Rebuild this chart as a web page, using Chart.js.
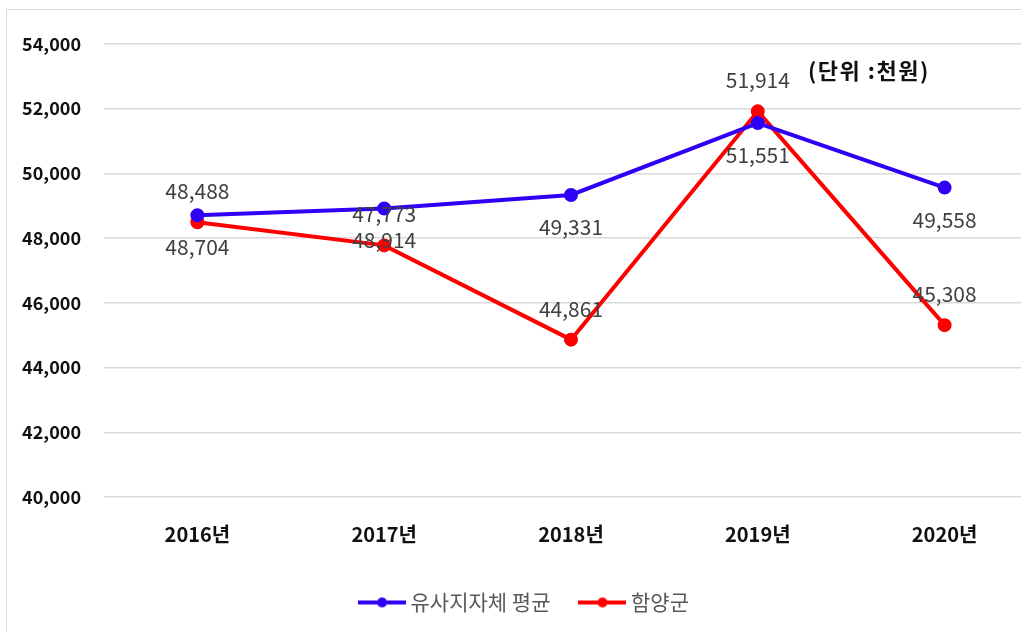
<!DOCTYPE html>
<html>
<head>
<meta charset="utf-8">
<script src="https://cdn.jsdelivr.net/npm/chart.js@4.4.1/dist/chart.umd.min.js"></script>
<style>
  html, body { margin: 0; padding: 0; background: #fff; overflow: hidden; }
  #frame {
    position: absolute; left: 6px; top: 9px; width: 1060px; height: 630px;
    border-left: 1px solid #d9d9d9; border-top: 1px solid #d9d9d9;
  }
  #wrap { position: absolute; left: 0; top: 0; width: 1040px; height: 622px; }
  #unit {
    position: absolute; left: 808px; top: 53px; line-height: 1;
    font: bold 22px "Noto Sans CJK KR", "Noto Sans", sans-serif; color: #111;
    letter-spacing: 1.5px;
  }
</style>
</head>
<body>
<div id="frame">
  <div id="wrap"><canvas id="lineChart"></canvas></div>
</div>
<div id="unit">(단위 :천원)</div>
<script>
// categories and values (천원)
const years = ['2016년', '2017년', '2018년', '2019년', '2020년'];
const avgValues = [48704, 48914, 49331, 51551, 49558];      // 유사지자체 평균
const hamyangValues = [48488, 47773, 44861, 51914, 45308];  // 함양군
const yTicks = [40000, 42000, 44000, 46000, 48000, 50000, 52000, 54000];

const BLUE = '#2f00f5';
const RED = '#ff0000';
const FONT = '"Noto Sans CJK KR", "Noto Sans", sans-serif';

// legend icon: short line with a dot in the middle
function legendIcon(color) {
  const c = document.createElement('canvas');
  c.width = 48; c.height = 12;
  const g = c.getContext('2d');
  g.strokeStyle = color; g.lineWidth = 4;
  g.beginPath(); g.moveTo(0, 6); g.lineTo(48, 6); g.stroke();
  g.fillStyle = color;
  g.beginPath(); g.arc(24, 6, 5, 0, Math.PI * 2); g.fill();
  return c;
}

// value labels: blue under the point, red above it
const valueLabels = {
  id: 'valueLabels',
  afterDatasetsDraw(chart) {
    const ctx = chart.ctx;
    ctx.save();
    ctx.font = '21px ' + FONT;
    ctx.fillStyle = '#404040';
    ctx.textAlign = 'center';
    ctx.textBaseline = 'middle';
    chart.data.datasets.forEach((ds, i) => {
      const meta = chart.getDatasetMeta(i);
      meta.data.forEach((pt, j) => {
        const dy = i === 0 ? 32 : -31;
        ctx.fillText(ds.data[j].toLocaleString('en-US'), pt.x, pt.y + dy);
      });
    });
    ctx.restore();
  }
};

const ctx = document.getElementById('lineChart').getContext('2d');
const chart = new Chart(ctx, {
  type: 'line',
  data: {
    labels: years,
    datasets: [{
      label: '유사지자체 평균',
      data: avgValues,
      borderColor: BLUE,
      backgroundColor: BLUE,
      borderWidth: 4,
      pointRadius: 5,
      pointStyle: 'circle',
      tension: 0
    }, {
      label: '함양군',
      data: hamyangValues,
      borderColor: RED,
      backgroundColor: RED,
      borderWidth: 4,
      pointRadius: 5,
      pointStyle: 'circle',
      tension: 0
    }]
  },
  options: {
    responsive: true,
    maintainAspectRatio: false,
    animation: false,
    layout: { padding: { top: 32, left: -1, right: 0, bottom: 9 } },
    plugins: {
      legend: {
        position: 'bottom',
        labels: {
          usePointStyle: true,
          pointStyleWidth: 36,
          boxHeight: 12,
          color: '#595959',
          font: { family: FONT, size: 21 },
          padding: 34,
          generateLabels(chart) {
            return chart.data.datasets.map((ds, i) => ({
              text: ds.label,
              pointStyle: legendIcon(ds.borderColor),
              fillStyle: ds.borderColor,
              strokeStyle: ds.borderColor,
              lineWidth: 0,
              fontColor: '#595959',
              datasetIndex: i
            }));
          }
        }
      },
      tooltip: { enabled: false }
    },
    scales: {
      x: {
        offset: true,
        grid: { display: false },
        border: { display: false },
        ticks: {
          color: '#111',
          font: { family: FONT, size: 20, weight: 'bold' },
          padding: 17
        },
        afterFit(scale) { scale.height = 61; }
      },
      y: {
        min: 40000,
        max: 54000,
        afterBuildTicks(scale) { scale.ticks = yTicks.map(v => ({ value: v })); },
        grid: { color: '#d9d9d9', lineWidth: 1.5, drawTicks: false },
        border: { display: false },
        ticks: {
          color: '#111',
          font: { family: FONT, size: 18, weight: 'bold' },
          padding: 23,
          callback: v => v.toLocaleString('en-US')
        },
        afterFit(scale) { scale.width = 98; }
      }
    }
  },
  plugins: [valueLabels]
});
</script>
</body>
</html>
